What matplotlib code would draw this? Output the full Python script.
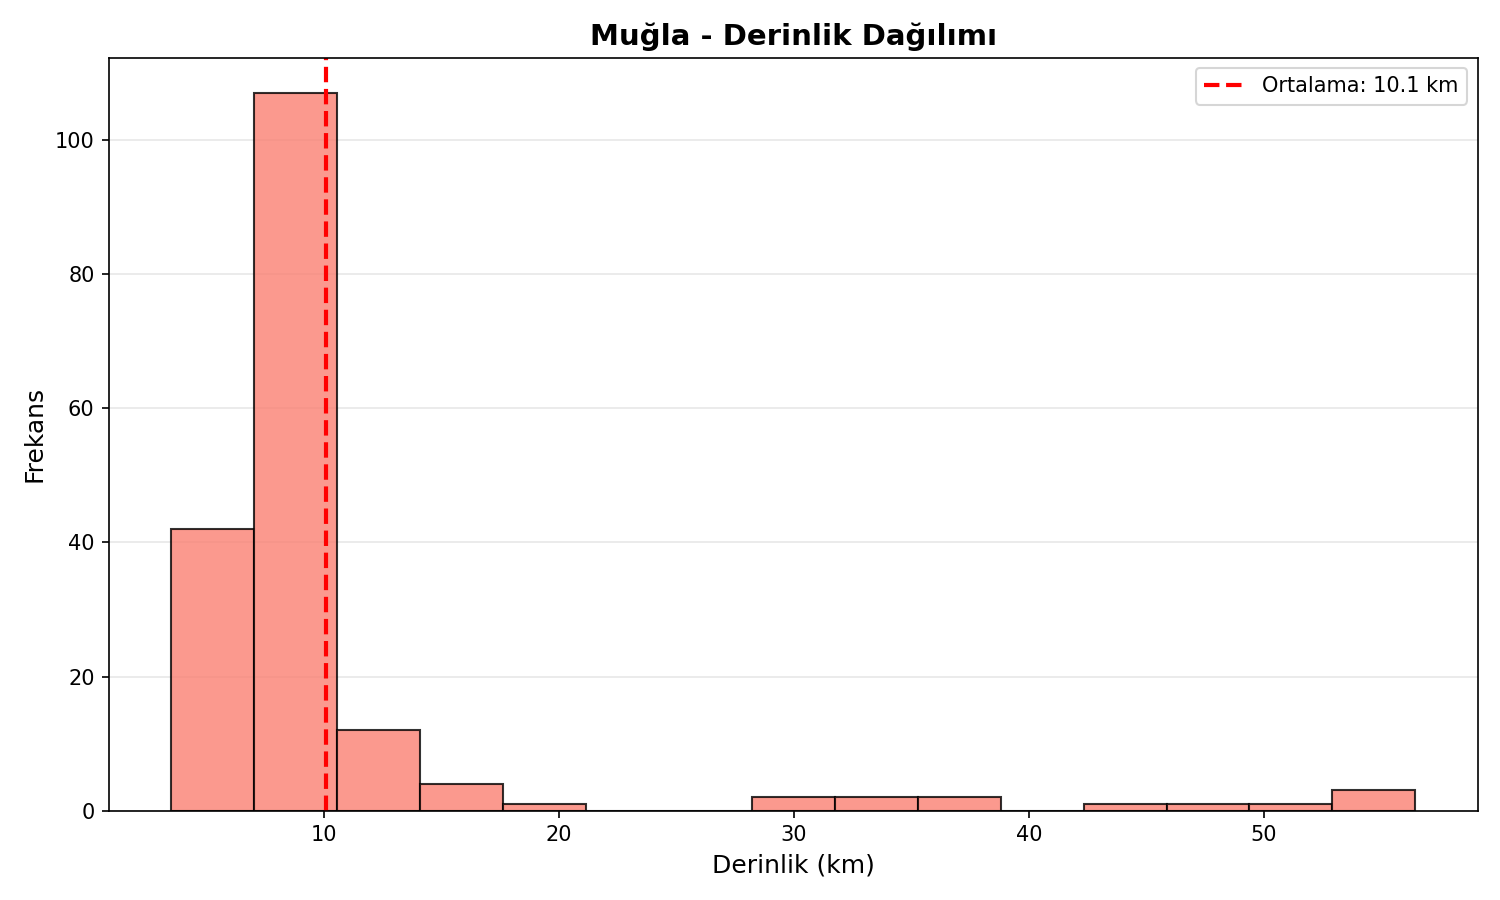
import matplotlib
matplotlib.use("Agg")
import matplotlib.pyplot as plt
import numpy as np

bin_start = 3.52
bin_end = 56.44
counts = [42, 107, 12, 4, 1, 0, 0, 2, 2, 2, 0, 1, 1, 1, 3]
mean_depth = 10.1

edges = np.linspace(bin_start, bin_end, len(counts) + 1)
centers = (edges[:-1] + edges[1:]) / 2

fig, ax = plt.subplots(figsize=(10, 6), dpi=150)
ax.hist(centers, bins=edges, weights=counts, color='salmon', alpha=0.8, edgecolor='black')
ax.axvline(mean_depth, color='red', linestyle='--', linewidth=2, label=f'Ortalama: {mean_depth:.1f} km')
ax.set_title('Muğla - Derinlik Dağılımı', fontsize=14, fontweight='bold')
ax.set_xlabel('Derinlik (km)', fontsize=12)
ax.set_ylabel('Frekans', fontsize=12)
ax.grid(axis='y', alpha=0.3)
ax.set_axisbelow(True)
ax.legend()
plt.tight_layout()
plt.savefig('out.png')
